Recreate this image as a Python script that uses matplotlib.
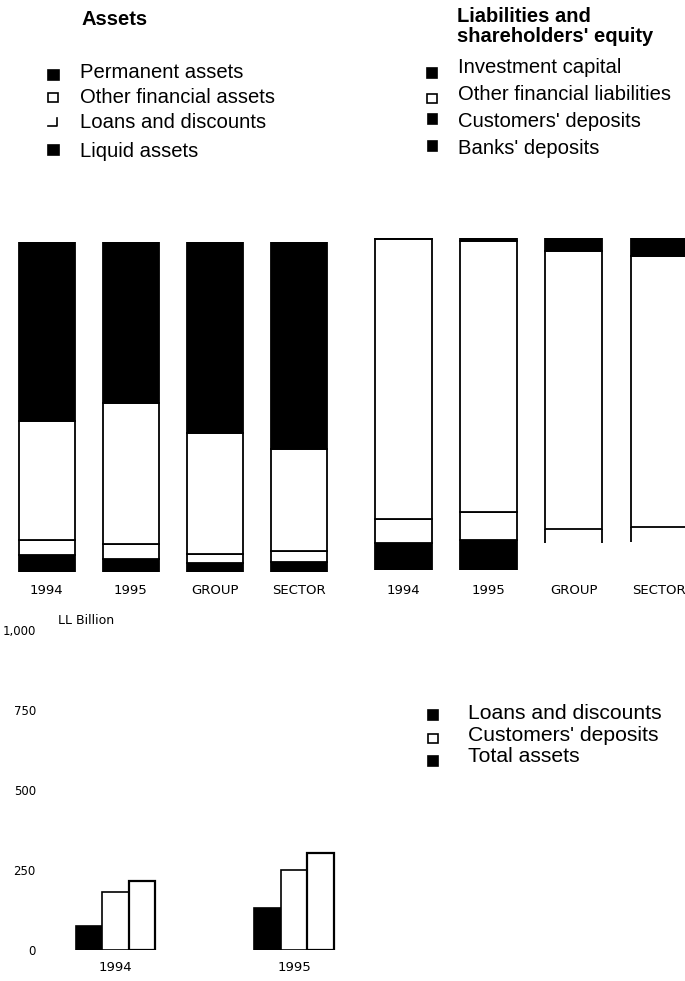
import matplotlib
matplotlib.use("Agg")
import matplotlib.pyplot as plt
from matplotlib.patches import Rectangle
from matplotlib.lines import Line2D
import numpy as np

# ---------------- data ----------------
bar_labels = ["1994", "1995", "GROUP", "SECTOR"]

# Assets structure (% of total), stacked bottom -> top
permanent_assets = [5.1, 4.0, 2.5, 3.0]
other_fin_assets = [4.5, 4.5, 3.0, 3.2]
loans_discounts = [36.2, 42.6, 36.4, 31.1]
liquid_assets = [54.2, 48.9, 58.1, 62.7]

# Liabilities structure (% of total), stacked bottom -> top
investment_capital = [8.1, 9.0, 8.1, 8.4]
other_fin_liab = [7.2, 8.4, 4.2, 4.5]
customers_deposits = [84.4, 81.7, 83.7, 81.7]
banks_deposits = [0.3, 0.9, 4.0, 5.4]

# LL Billion
years = ["1994", "1995"]
loans_bn = [75, 131]
cust_dep_bn = [181, 250]
total_assets_bn = [216, 303]
yticks_bn = [0, 250, 500, 750, 1000]
ytick_labels = ["0", "250", "500", "750", "1,000"]

# ---------------- figure ----------------
W, H = 685, 981
fig = plt.figure(figsize=(W / 100, H / 100), dpi=100)
LEG_FONT = ["Liberation Sans", "DejaVu Sans"]
TICK_FONT = ["DejaVu Sans"]


def fx(x):
    return x / W


def fy(y):
    return 1 - y / H


def axes_px(left, top, right, bottom):
    return fig.add_axes([fx(left), fy(bottom), (right - left) / W, (bottom - top) / H])


def clean(ax):
    for s in ax.spines.values():
        s.set_visible(False)
    ax.tick_params(length=0)


# ---------------- assets stacked bars ----------------
ax1 = axes_px(4.4, 241.7, 4.4 + 4 * 84.2, 571.7)
x = np.arange(len(bar_labels))
bw1 = 56 / 84.2
bottom = np.zeros(len(x))
for vals, col in [(permanent_assets, "black"), (other_fin_assets, "white"),
                  (loans_discounts, "white"), (liquid_assets, "black")]:
    ax1.bar(x, vals, bw1, bottom=bottom, color=col, edgecolor="black", linewidth=1.3)
    bottom += np.array(vals)
ax1.set_xlim(-0.5, 3.5)
ax1.set_ylim(0, 100)
ax1.set_yticks([])
ax1.set_xticks(x)
ax1.set_xticklabels(bar_labels, fontsize=9.5, family=TICK_FONT)
ax1.tick_params(axis="x", pad=9)
clean(ax1)

# ---------------- liabilities stacked bars ----------------
ax2 = axes_px(360.9, 238, 360.9 + 4 * 85.2, 570)
bw2 = 57 / 85.2
ic_colors = ["black", "black", "white", "white"]
ic_edges = ["black", "black", "white", "white"]
ax2.bar(x, investment_capital, bw2, color=ic_colors, edgecolor=ic_edges, linewidth=1.3)
bottom = np.array(investment_capital, dtype=float)
ofl_edges = ["black", "black", "none", "none"]
ax2.bar(x, other_fin_liab, bw2, bottom=bottom, color="white", edgecolor=ofl_edges, linewidth=1.3)
# open-bottom segments (GROUP, SECTOR): only side lines
for i in (2, 3):
    ax2.vlines([x[i] - bw2 / 2, x[i] + bw2 / 2], bottom[i], bottom[i] + other_fin_liab[i],
               color="black", linewidth=1.3)
bottom += np.array(other_fin_liab)
for vals, col in [(customers_deposits, "white"), (banks_deposits, "black")]:
    ax2.bar(x, vals, bw2, bottom=bottom, color=col, edgecolor="black", linewidth=1.3)
    bottom += np.array(vals)
ax2.set_xlim(-0.5, 3.5)
ax2.set_ylim(0, 100)
ax2.set_yticks([])
ax2.set_xticks(x)
ax2.set_xticklabels(bar_labels, fontsize=9.5, family=TICK_FONT)
ax2.tick_params(axis="x", pad=10)
clean(ax2)

# ---------------- bottom grouped bars ----------------
unit = 178.5
left_px, right_px = 40, 685
ax3 = axes_px(left_px, 630, right_px, 950)
xy = np.arange(len(years))
w3 = 26.5 / unit
ax3.bar(xy - w3, loans_bn, w3, color="black", edgecolor="black", linewidth=1.2)
ax3.bar(xy, cust_dep_bn, w3, color="white", edgecolor="black", linewidth=1.2)
ax3.bar(xy + w3, total_assets_bn, w3, color="white", edgecolor="black", linewidth=1.6)
ax3.set_xlim((left_px - 115.5) / unit, (right_px - 115.5) / unit)
ax3.set_ylim(0, 1000)
ax3.set_xticks(xy)
ax3.set_xticklabels(years, fontsize=9.5, family=TICK_FONT)
ax3.set_yticks(yticks_bn)
ax3.set_yticklabels(ytick_labels, fontsize=8.5, family=TICK_FONT)
ax3.tick_params(axis="x", pad=8)
ax3.tick_params(axis="y", pad=3)
clean(ax3)
fig.text(fx(58), fy(621), "LL Billion", fontsize=9, family=TICK_FONT, va="center", ha="left")

# ---------------- legends (manual) ----------------
def square(x0, y0, x1, y1, face):
    fig.add_artist(Rectangle((fx(x0), fy(y1)), (x1 - x0) / W, (y1 - y0) / H,
                             transform=fig.transFigure, facecolor=face,
                             edgecolor="black", linewidth=1.2))


def entry(xt, yb, text, size=14.6):
    fig.text(fx(xt), fy(yb), text, fontsize=size, family=LEG_FONT, va="baseline", ha="left")


# Assets
fig.text(fx(82), fy(25), "Assets", fontsize=14.5, family=LEG_FONT, weight="bold", va="baseline")
entry(80, 78, "Permanent assets")
entry(80, 103, "Other financial assets")
entry(80, 128, "Loans and discounts")
entry(80, 157, "Liquid assets")
square(48, 70, 59, 80, "black")
square(48, 93, 58, 102, "white")
fig.add_artist(Line2D([fx(48), fx(57), fx(57)], [fy(126), fy(126), fy(118)],
                      transform=fig.transFigure, color="black", linewidth=1.2))
square(48, 145, 59, 155, "black")

# Liabilities
fig.text(fx(457), fy(22), "Liabilities and", fontsize=14.5, family=LEG_FONT, weight="bold", va="baseline")
fig.text(fx(457), fy(42), "shareholders' equity", fontsize=14.5, family=LEG_FONT, weight="bold", va="baseline")
entry(458, 73, "Investment capital")
entry(458, 100, "Other financial liabilities")
entry(458, 127, "Customers' deposits")
entry(458, 154, "Banks' deposits")
square(427, 68, 437, 78, "black")
square(427, 94, 437, 103, "white")
square(428, 114, 437, 124, "black")
square(428, 141, 437, 151, "black")

# Bottom legend
entry(468, 719, "Loans and discounts", 15.2)
entry(468, 741, "Customers' deposits", 15.2)
entry(468, 762, "Total assets", 15.2)
square(428, 710, 438, 720, "black")
square(428, 734, 438, 743, "white")
square(428, 756, 438, 766, "black")

fig.savefig("out.png", dpi=100)
